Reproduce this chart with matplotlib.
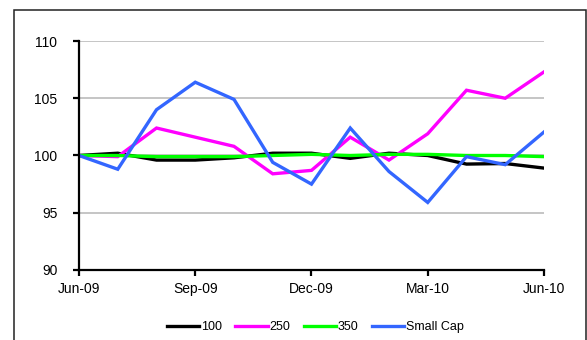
import matplotlib.pyplot as plt
from matplotlib.patches import Rectangle

plt.rcParams['font.family'] = ['Liberation Sans', 'DejaVu Sans']

months = ['Jun-09', 'Jul-09', 'Aug-09', 'Sep-09', 'Oct-09', 'Nov-09', 'Dec-09',
          'Jan-10', 'Feb-10', 'Mar-10', 'Apr-10', 'May-10', 'Jun-10']

ftse_100 = [100.0, 100.2, 99.6, 99.6, 99.8, 100.2, 100.2, 99.75, 100.2, 100.0, 99.25, 99.3, 98.9]
ftse_250 = [100.0, 99.9, 102.4, 101.6, 100.8, 98.4, 98.7, 101.6, 99.6, 101.9, 105.7, 105.0, 107.3]
ftse_350 = [100.0, 100.0, 99.9, 99.9, 99.9, 100.0, 100.1, 100.0, 100.1, 100.1, 100.0, 100.0, 99.9]
small_cap = [100.0, 98.8, 104.0, 106.4, 104.9, 99.4, 97.5, 102.4, 98.6, 95.9, 99.9, 99.2, 102.05]

series = [('100', ftse_100, 'black'),
          ('250', ftse_250, '#ff00ff'),
          ('350', ftse_350, '#00ff00'),
          ('Small Cap', small_cap, '#3366ff')]

fig = plt.figure(figsize=(5.87, 3.40), dpi=100)
ax = fig.add_axes([0.1346, 0.2059, 0.7921, 0.6735])

# outer chart border
fig.patches.append(Rectangle((0.023, -0.1), 0.975, 1.0706, transform=fig.transFigure,
                             fill=False, edgecolor='#222222', linewidth=1.1))

x = list(range(len(months)))
for name, vals, color in series:
    ax.plot(x, vals, color=color, linewidth=2.4, label=name, solid_joinstyle='miter')

ax.set_xlim(0, len(months) - 1)
ax.set_ylim(90, 110)
ax.set_yticks([90, 95, 100, 105, 110])
ax.set_xticks(x[::3])
ax.set_xticklabels(months[::3])

for yv in [95, 100, 105, 110]:
    ax.axhline(yv, color='#c0c0c0', linewidth=1.3, zorder=0)

for side in ['top', 'right']:
    ax.spines[side].set_visible(False)
for side in ['left', 'bottom']:
    ax.spines[side].set_linewidth(1.6)

ax.tick_params(axis='y', direction='out', length=4.5, width=1.6, pad=11, labelsize=10)
ax.tick_params(axis='x', direction='out', length=4, width=1.6, pad=5, labelsize=10)

leg = fig.legend(loc='center', bbox_to_anchor=(0.537, 0.038), ncol=4, frameon=False,
                 fontsize=9, handlelength=2.6, handletextpad=0.1, columnspacing=1.1)

fig.savefig('out.png', dpi=100)
